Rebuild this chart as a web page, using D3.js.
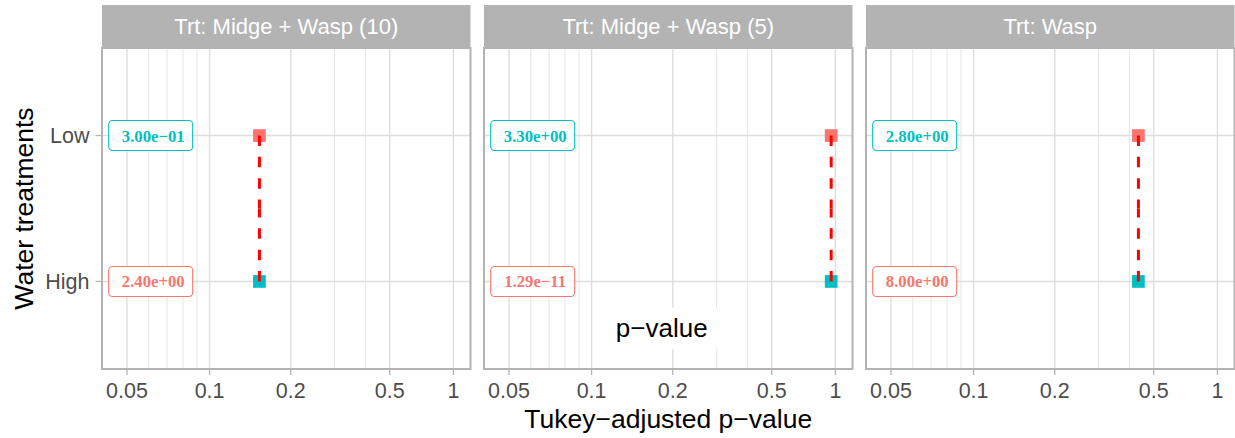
<!DOCTYPE html>
<html>
<head>
<meta charset="utf-8">
<script src="https://cdn.jsdelivr.net/npm/d3@7"></script>
<style>
  body { margin: 0; background: #fff; }
  svg { display: block; }
</style>
</head>
<body>
<svg id="chart" width="1235" height="438"></svg>
<script>
// Facet panels and the two water treatments
const facets = ["Trt: Midge + Wasp (10)", "Trt: Midge + Wasp (5)", "Trt: Wasp"];
const waterLevels = ["Low", "High"];
// Tukey-adjusted p-value of each facet (shared by Low and High)
const pValues = [0.153, 0.955, 0.434];
// Boxed estimate labels per facet
const lowLabels = ["3.00e\u221201", "3.30e+00", "2.80e+00"];
const highLabels = ["2.40e+00", "1.29e\u221211", "8.00e+00"];
// Axis breaks
const xBreaks = [0.05, 0.1, 0.2, 0.5, 1];
const xBreakLabels = ["0.05", "0.1", "0.2", "0.5", "1"];
const xMinorBreaks = [0.06, 0.07, 0.08, 0.09, 0.3, 0.4];
// Where the estimate labels sit on the p-value axis
const labelX = 0.061;
// Free-floating annotation in the middle facet
const noteFacet = 1, noteX = 0.182, noteY = 0.68, noteText = "p\u2212value";

const pointColor = { Low: "#F8766D", High: "#00BFC4" };
const labelColor = { Low: "#00BFC4", High: "#F8766D" };
const levelPos = { Low: 2, High: 1 };

const svg = d3.select("#chart");
const sans = "'Liberation Sans', Arimo, Helvetica, Arial, sans-serif";
const serif = "'Liberation Serif', 'Times New Roman', serif";

const panelLeft = 102, panelStep = 382, panelW = 368.5;
const panelTop = 48, panelBottom = 369, stripTop = 5;
const breakOffsets = [25, 107.6, 188.8, 287.7, 351.4];

const y = d3.scaleLinear().domain([0.4, 2.6]).range([panelBottom, panelTop]);

facets.forEach((facet, i) => {
  const left = panelLeft + i * panelStep;
  const x = d3.scaleLog().domain(xBreaks).range(breakOffsets.map(o => left + o));
  const g = svg.append("g");

  // strip
  g.append("rect").attr("x", left).attr("y", stripTop)
    .attr("width", panelW).attr("height", panelTop - stripTop)
    .attr("fill", "#B3B3B3");
  g.append("text").attr("x", left + panelW / 2).attr("y", (stripTop + panelTop) / 2 + 7.5)
    .attr("text-anchor", "middle").attr("fill", "#fff")
    .style("font-family", sans).style("font-size", "22px").text(facet);

  // grid
  const grid = g.append("g");
  grid.selectAll(".minor").data(xMinorBreaks).join("line")
    .attr("x1", d => x(d)).attr("x2", d => x(d))
    .attr("y1", panelTop).attr("y2", panelBottom)
    .attr("stroke", "#DEDEDE").attr("stroke-width", 0.8);
  grid.selectAll(".major").data(xBreaks).join("line")
    .attr("x1", d => x(d)).attr("x2", d => x(d))
    .attr("y1", panelTop).attr("y2", panelBottom)
    .attr("stroke", "#DEDEDE").attr("stroke-width", 1.4);
  grid.selectAll(".hmajor").data(waterLevels).join("line")
    .attr("x1", left).attr("x2", left + panelW)
    .attr("y1", d => y(levelPos[d])).attr("y2", d => y(levelPos[d]))
    .attr("stroke", "#DEDEDE").attr("stroke-width", 1.4);

  // boxed estimate labels
  const labs = [
    { level: "Low", text: lowLabels[i] },
    { level: "High", text: highLabels[i] }
  ];
  labs.forEach(l => {
    const cx = x(labelX), cy = y(levelPos[l.level]);
    g.append("rect").attr("x", cx - 42).attr("y", cy - 15)
      .attr("width", 84).attr("height", 30).attr("rx", 4).attr("ry", 4)
      .attr("fill", "#fff").attr("stroke", labelColor[l.level]).attr("stroke-width", 1.1);
    g.append("text").attr("x", cx + 2.5).attr("y", cy + 6)
      .attr("text-anchor", "middle").attr("fill", labelColor[l.level])
      .style("font-family", serif).style("font-weight", "bold").style("font-size", "16.7px")
      .text(l.text);
  });

  // annotation
  if (i === noteFacet) {
    const cx = x(noteX), cy = y(noteY);
    g.append("rect").attr("x", cx - 61).attr("y", cy - 20.5)
      .attr("width", 122).attr("height", 41).attr("fill", "#fff");
    g.append("text").attr("x", cx).attr("y", cy + 9)
      .attr("text-anchor", "middle").attr("fill", "#000")
      .style("font-family", sans).style("font-size", "26px").text(noteText);
  }

  // points
  const px = x(pValues[i]);
  waterLevels.forEach(lv => {
    g.append("path")
      .attr("d", d3.symbol(d3.symbolSquare, 12.7 * 12.7)())
      .attr("transform", `translate(${px},${y(levelPos[lv])})`)
      .attr("fill", pointColor[lv]);
  });

  // dashed connector, dashes starting from each end
  const yLow = y(levelPos.Low), yHigh = y(levelPos.High), yMid = (yLow + yHigh) / 2;
  [[yLow, yMid], [yHigh, yMid]].forEach(([a, b]) => {
    g.append("line").attr("x1", px).attr("x2", px).attr("y1", a).attr("y2", b)
      .attr("stroke", "#FF0000").attr("stroke-width", 3)
      .attr("stroke-dasharray", "10.5,10.8");
  });

  // panel border
  g.append("rect").attr("x", left).attr("y", panelTop)
    .attr("width", panelW).attr("height", panelBottom - panelTop)
    .attr("fill", "none").attr("stroke", "#B3B3B3").attr("stroke-width", 2);

  // x axis
  const ax = g.append("g");
  ax.selectAll("line").data(xBreaks).join("line")
    .attr("x1", d => x(d)).attr("x2", d => x(d))
    .attr("y1", panelBottom + 1).attr("y2", panelBottom + 6)
    .attr("stroke", "#B3B3B3").attr("stroke-width", 1.3);
  ax.selectAll("text").data(xBreaks).join("text")
    .attr("x", d => x(d)).attr("y", 398)
    .attr("text-anchor", "middle").attr("fill", "#4D4D4D")
    .style("font-family", sans).style("font-size", "21.5px")
    .text((d, k) => xBreakLabels[k]);
});

// y axis (left of first panel)
const ay = svg.append("g");
ay.selectAll("line").data(waterLevels).join("line")
  .attr("x1", panelLeft - 6.5).attr("x2", panelLeft - 1)
  .attr("y1", d => y(levelPos[d])).attr("y2", d => y(levelPos[d]))
  .attr("stroke", "#B3B3B3").attr("stroke-width", 1.3);
ay.selectAll("text").data(waterLevels).join("text")
  .attr("x", 89.5).attr("y", d => y(levelPos[d]) + 7.8)
  .attr("text-anchor", "end").attr("fill", "#4D4D4D")
  .style("font-family", sans).style("font-size", "21.5px").text(d => d);

// axis titles
svg.append("text").attr("x", panelLeft + (2 * panelStep + panelW) / 2).attr("y", 428)
  .attr("text-anchor", "middle").attr("fill", "#000")
  .style("font-family", sans).style("font-size", "26.5px").text("Tukey\u2212adjusted p\u2212value");
svg.append("text").attr("transform", `translate(33,${(panelTop + panelBottom) / 2}) rotate(-90)`)
  .attr("text-anchor", "middle").attr("fill", "#000")
  .style("font-family", sans).style("font-size", "26.5px").text("Water treatments");
</script>
</body>
</html>
